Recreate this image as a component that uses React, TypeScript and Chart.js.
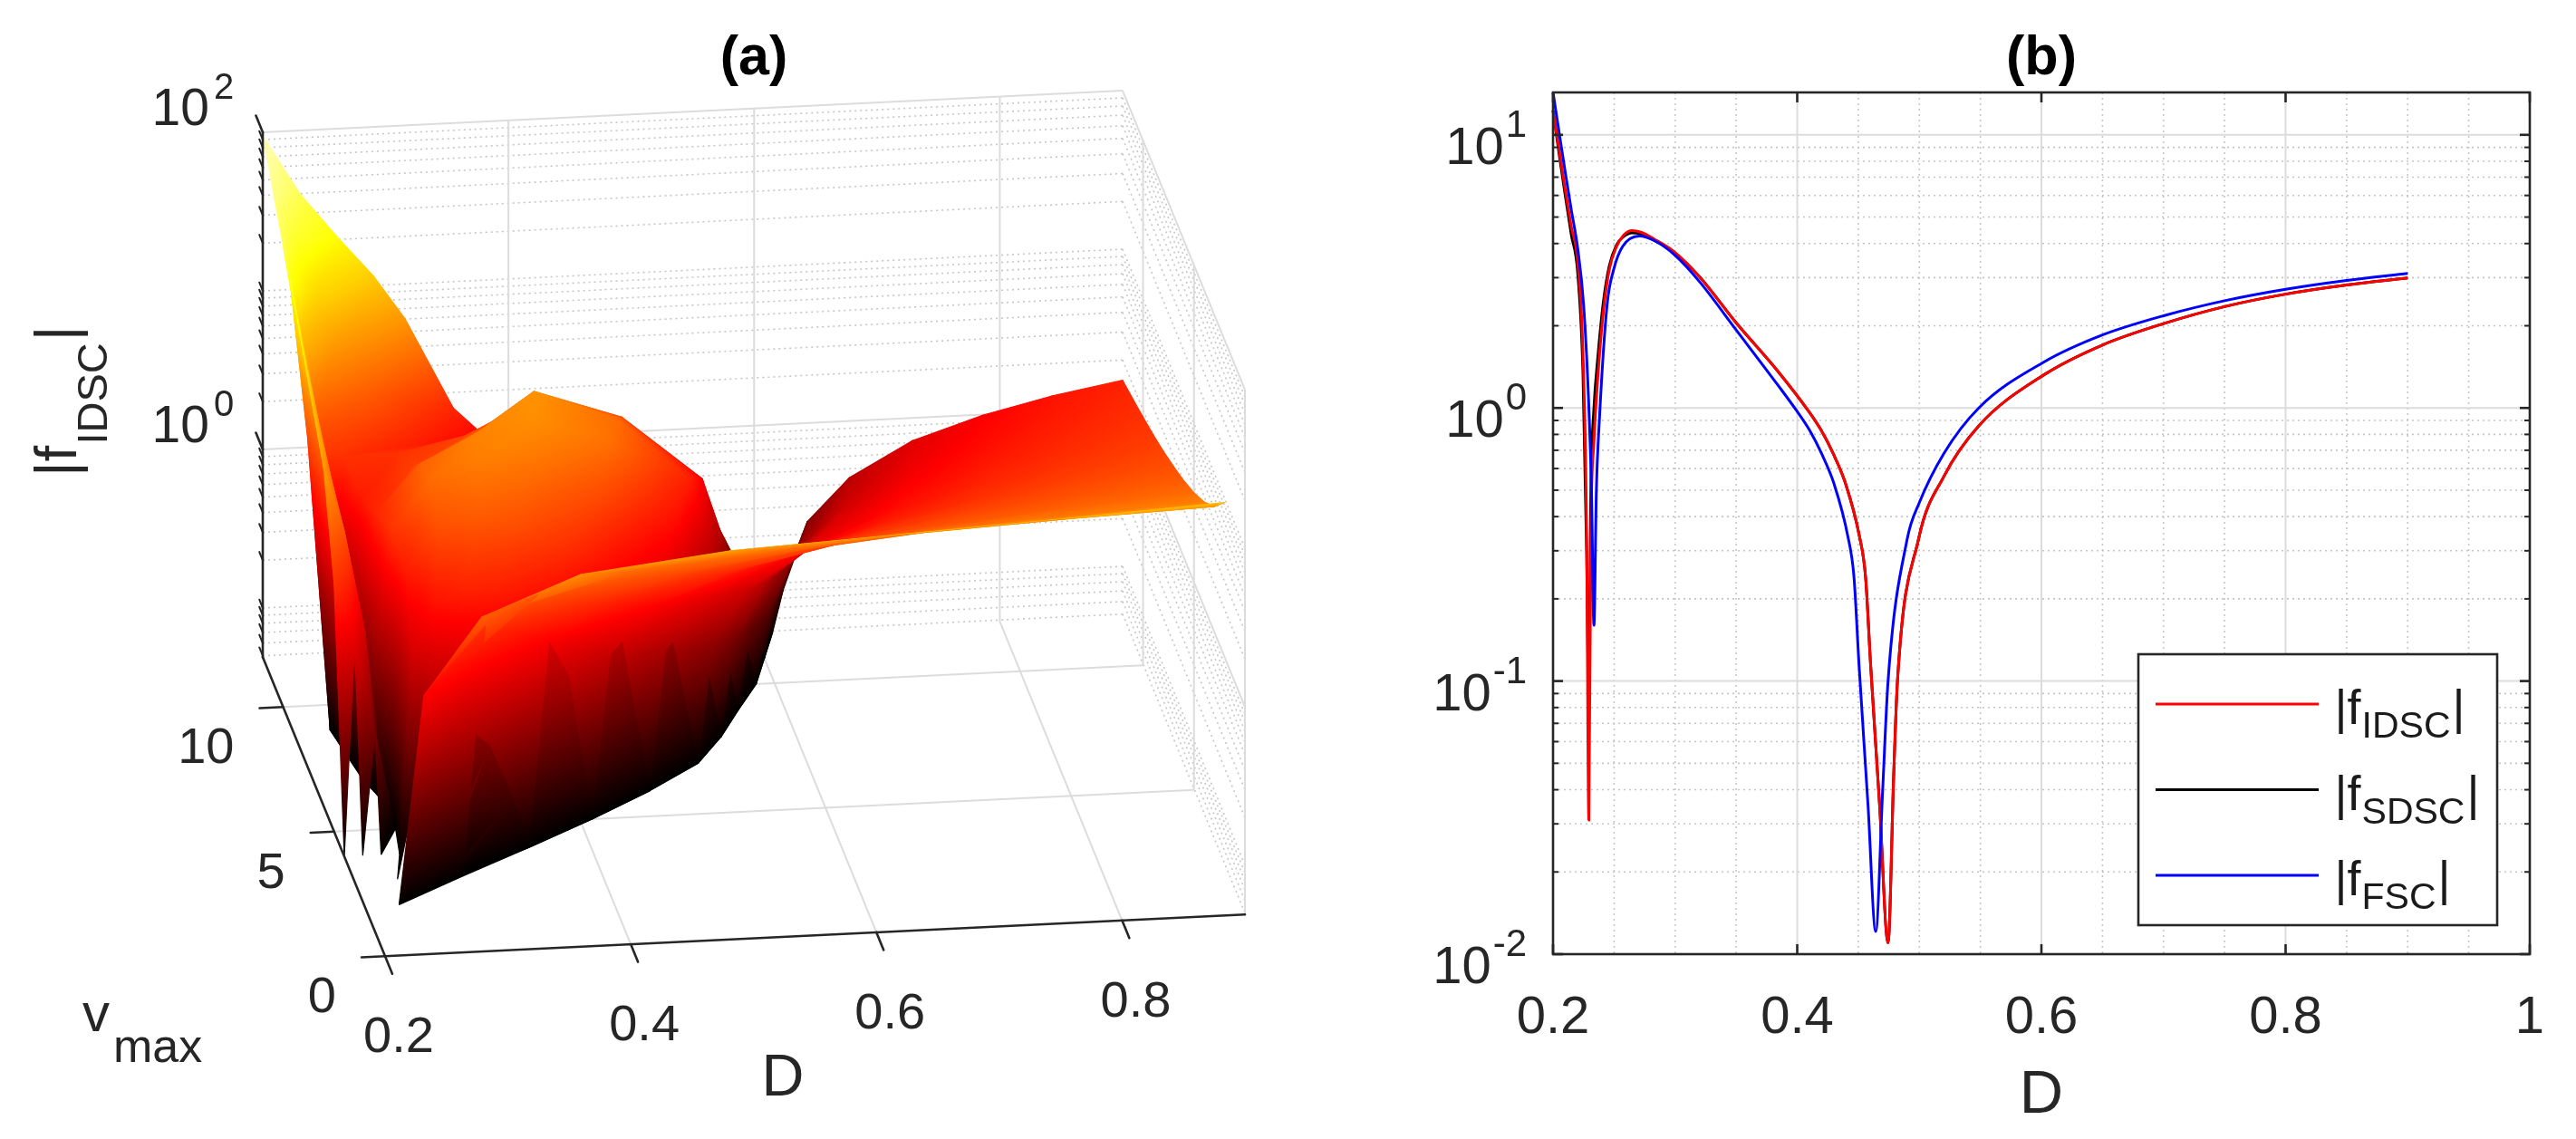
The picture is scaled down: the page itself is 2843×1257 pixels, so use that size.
import React, { useEffect, useRef } from "react";
import { Chart, registerables } from "chart.js";

Chart.register(...registerables);

/* ====================== panel (b): |f| versus D ====================== */
const D_IDSC = [0.2, 0.205, 0.21, 0.215, 0.22, 0.2245, 0.2275, 0.2293, 0.231, 0.2335, 0.2365, 0.241, 0.246, 0.252, 0.258, 0.2647, 0.272, 0.283, 0.299, 0.32, 0.35, 0.3837, 0.4095, 0.4195, 0.4295, 0.4395, 0.4509, 0.456, 0.4601, 0.4675, 0.4744, 0.479, 0.4821, 0.4993, 0.52, 0.5487, 0.6018, 0.65, 0.7007, 0.75, 0.8, 0.85, 0.9];
const F_IDSC = [12.3, 8.8, 6.3, 4.6, 3.5, 1.6, 0.35, 0.031, 0.35, 0.75, 1.26, 2.2, 3.2, 3.9, 4.3, 4.46, 4.4, 4.15, 3.74, 3.02, 2.05, 1.37, 0.97, 0.83, 0.68, 0.53, 0.34, 0.24, 0.115, 0.035, 0.011, 0.045, 0.1, 0.33, 0.56, 0.86, 1.32, 1.7, 2.04, 2.35, 2.61, 2.82, 2.99];
const D_SDSC = D_IDSC;
const F_SDSC = [12.3, 8.5, 6.0, 4.3, 3.2, 1.35, 0.3, 0.088, 0.5, 1.0, 1.5, 2.4, 3.3, 3.95, 4.25, 4.38, 4.33, 4.1, 3.72, 3.02, 2.05, 1.37, 0.97, 0.83, 0.68, 0.53, 0.34, 0.24, 0.115, 0.035, 0.011, 0.045, 0.1, 0.33, 0.56, 0.86, 1.32, 1.7, 2.04, 2.35, 2.61, 2.82, 2.99];
const D_FSC = [0.2, 0.205, 0.21, 0.215, 0.22, 0.225, 0.229, 0.2315, 0.2335, 0.2355, 0.238, 0.2443, 0.25, 0.257, 0.2706, 0.283, 0.3, 0.32, 0.35, 0.3837, 0.4, 0.41, 0.42, 0.43, 0.4414, 0.4465, 0.4506, 0.458, 0.4643, 0.47, 0.4744, 0.49, 0.5, 0.52, 0.5487, 0.6018, 0.65, 0.7007, 0.75, 0.8, 0.85, 0.9];
const F_FSC = [14.3, 10.2, 7.3, 5.3, 3.9, 2.4, 1.1, 0.5, 0.16, 0.5, 0.91, 2.39, 3.25, 3.9, 4.26, 4.1, 3.62, 2.9, 1.93, 1.22, 0.97, 0.83, 0.68, 0.53, 0.34, 0.24, 0.115, 0.035, 0.0121, 0.04, 0.1, 0.33, 0.45, 0.68, 1.0, 1.47, 1.85, 2.18, 2.47, 2.72, 2.93, 3.11];

const SERIES_SUBS = ["IDSC", "SDSC", "FSC"];
const SERIES_COLORS = ["#ff0000", "#000000", "#0000ff"];
const SERIES_ORDER = [1, 2, 0];

const B_X_MIN = 0.2;
const B_X_MAX = 1;
const B_Y_MIN = 0.01;
const B_Y_MAX = 14.3;
const B_X_TICKS = [0.2, 0.4, 0.6, 0.8, 1];
const B_X_TICK_LABELS = ["0.2", "0.4", "0.6", "0.8", "1"];
const B_Y_DECADES = [-2, -1, 0, 1];

/* ====================== panel (a): surface |f_IDSC|(D, vmax) ======================
   one sampled curve per vmax value; every curve is sampled at its own D positions
   (start, first dip, hump, second dip, rising branch) */
const A_VMAX = [2, 3, 4, 5, 6, 7, 8, 9, 10, 11, 12];
const D_V2 = [0.2, 0.2033, 0.2067, 0.21, 0.2114, 0.2136, 0.2163, 0.219, 0.2226, 0.2258, 0.228, 0.2482, 0.2952, 0.3758, 0.4968, 0.6312, 0.7656, 0.9];
const F_V2 = [0.02, 0.02, 0.02, 0.02, 0.02, 0.02, 0.02, 0.02, 0.02, 0.02, 0.02, 1.0, 3.0, 5.2, 6.6, 7.4, 8.3, 9.4];
const D_V3 = [0.2, 0.2117, 0.2233, 0.235, 0.2392, 0.2456, 0.2536, 0.2615, 0.2721, 0.2816, 0.288, 0.3064, 0.3492, 0.4226, 0.5328, 0.6552, 0.7776, 0.9];
const F_V3 = [0.02, 0.02, 0.02, 0.02, 0.03, 0.04, 0.045, 0.045, 0.04, 0.03, 0.01, 1.82, 2.77, 3.65, 4.5, 5.18, 5.73, 6.2];
const D_V4 = [0.2, 0.215, 0.23, 0.245, 0.2534, 0.266, 0.2818, 0.2975, 0.3185, 0.3374, 0.35, 0.3665, 0.405, 0.471, 0.57, 0.68, 0.79, 0.9];
const F_V4 = [0.02, 0.02, 0.02, 0.02, 0.08, 0.2, 0.3, 0.3, 0.22, 0.1, 0.01, 0.95, 1.63, 2.33, 3.05, 3.66, 4.16, 4.6];
const D_V5 = [0.2, 0.2167, 0.2333, 0.25, 0.2628, 0.282, 0.306, 0.33, 0.362, 0.3908, 0.41, 0.4247, 0.459, 0.5178, 0.606, 0.704, 0.802, 0.9];
const F_V5 = [1.8, 0.75, 0.2, 0.01, 0.6, 1.2, 1.5, 1.45, 1.0, 0.4, 0.01, 0.53, 1.03, 1.59, 2.21, 2.76, 3.24, 3.66];
const D_V6 = [0.2, 0.2167, 0.2333, 0.25, 0.2672, 0.293, 0.3253, 0.3575, 0.4005, 0.4392, 0.465, 0.478, 0.5085, 0.5607, 0.639, 0.726, 0.813, 0.9];
const F_V6 = [6.5, 2.6, 0.6, 0.01, 1.3, 2.6, 3.0, 2.6, 1.7, 0.6, 0.01, 0.37, 0.76, 1.23, 1.75, 2.24, 2.66, 3.04];
const D_V7 = [0.2, 0.2133, 0.2267, 0.24, 0.2618, 0.2946, 0.3356, 0.3765, 0.4311, 0.4802, 0.513, 0.5246, 0.5517, 0.5981, 0.6678, 0.7452, 0.8226, 0.9];
const F_V7 = [10.5, 4.2, 1.0, 0.01, 1.8, 3.6, 4.5, 3.9, 2.4, 0.8, 0.01, 0.27, 0.58, 0.97, 1.43, 1.86, 2.25, 2.6];
const D_V8 = [0.2, 0.2117, 0.2233, 0.235, 0.2594, 0.296, 0.3418, 0.3875, 0.4485, 0.5034, 0.54, 0.5508, 0.576, 0.6192, 0.684, 0.756, 0.828, 0.9];
const F_V8 = [17, 6.5, 1.4, 0.01, 1.6, 3.2, 4.8, 5.5, 3.9, 1.2, 0.01, 0.19, 0.45, 0.78, 1.19, 1.58, 1.93, 2.26];
const D_V9 = [0.2, 0.21, 0.22, 0.23, 0.2566, 0.2964, 0.3462, 0.396, 0.4624, 0.5222, 0.562, 0.5721, 0.5958, 0.6364, 0.6972, 0.7648, 0.8324, 0.9];
const F_V9 = [27, 11, 3.5, 0.01, 1.4, 2.1, 3.2, 5.8, 3.7, 1.5, 0.01, 0.16, 0.38, 0.67, 1.03, 1.38, 1.7, 2.0];
const D_V10 = [0.2, 0.2067, 0.2133, 0.22, 0.2492, 0.293, 0.3478, 0.4025, 0.4755, 0.5412, 0.585, 0.5945, 0.6165, 0.6543, 0.711, 0.774, 0.837, 0.9];
const F_V10 = [40, 20, 7, 2.4, 1.8, 1.8, 2.2, 3.5, 2.6, 1.0, 0.01, 0.13, 0.32, 0.58, 0.91, 1.23, 1.52, 1.8];
const D_V11 = [0.2, 0.2167, 0.2333, 0.25, 0.278, 0.32, 0.3725, 0.425, 0.495, 0.558, 0.6, 0.609, 0.63, 0.666, 0.72, 0.78, 0.84, 0.9];
const F_V11 = [62, 30, 13, 6, 3.0, 1.4, 1.15, 1.5, 1.1, 0.4, 0.01, 0.106, 0.27, 0.5, 0.8, 1.09, 1.37, 1.63];
const D_V12 = [0.2, 0.23, 0.26, 0.29, 0.316, 0.355, 0.4038, 0.4525, 0.5175, 0.576, 0.615, 0.6236, 0.6435, 0.6777, 0.729, 0.786, 0.843, 0.9];
const F_V12 = [95, 40, 21, 11.5, 6.0, 1.6, 0.7, 0.5, 0.32, 0.14, 0.01, 0.09, 0.24, 0.44, 0.72, 0.99, 1.25, 1.49];
const A_D_ROWS = [D_V2, D_V3, D_V4, D_V5, D_V6, D_V7, D_V8, D_V9, D_V10, D_V11, D_V12];
const A_F_ROWS = [F_V2, F_V3, F_V4, F_V5, F_V6, F_V7, F_V8, F_V9, F_V10, F_V11, F_V12];

const A_D_TICKS = [0.2, 0.4, 0.6, 0.8];
const A_D_TICK_LABELS = ["0.2", "0.4", "0.6", "0.8"];
const A_V_TICKS = [0, 5, 10];
const A_V_TICK_LABELS = ["0", "5", "10"];
const A_Z_TICK_EXP = [0, 2];

/* ====================== layout / style ====================== */
const FONT = '"Liberation Sans", Arial, Helvetica, sans-serif';
const AXIS_COLOR = "#262626";
const GRID_MAJOR = "#dcdcdc";
const GRID_MINOR = "#c6c6c6";

const A_W = 1540;
const A_H = 1257;
const B_W = 1303;
const B_H = 1257;

// 3-D box of panel (a)
const BOX = { dMin: 0.2, dMax: 0.9, vMin: 0, vMax: 12, lzMin: -1.31, lzMax: 2 };
// colour limits (log10 |f|) for the "hot" colormap
const CLIM = { lo: -1.31, hi: 2.2 };
// view: screen displacement per unit D, per unit vmax, per decade of |f| (origin at D=0.2, vmax=12, |f|=1)
const VIEW = { ox: 290, oy: 496, dDx: 1355.7, dDy: -65.7, dVx: -11.25, dVy: -27.5, dZ: 175 };
const SLOPE_D = -VIEW.dDy / VIEW.dDx;
const SLOPE_V = VIEW.dVy / VIEW.dVx;
const SIN_EL = Math.sqrt(SLOPE_D * SLOPE_V);
const TAN_AZ = SLOPE_D / SIN_EL;

function proj(D: number, v: number, lz: number) {
  return {
    x: VIEW.ox + (D - BOX.dMin) * VIEW.dDx + (v - BOX.vMax) * VIEW.dVx,
    y: VIEW.oy + (D - BOX.dMin) * VIEW.dDy + (v - BOX.vMax) * VIEW.dVy - lz * VIEW.dZ,
  };
}
function depthOf(D: number, v: number) {
  return (D - BOX.dMin) * VIEW.dDx * TAN_AZ + (v * Math.abs(VIEW.dVx)) / TAN_AZ;
}

function clamp01(t: number) {
  return Math.min(1, Math.max(0, t));
}
function hot(lz: number) {
  const t = clamp01((lz - CLIM.lo) / (CLIM.hi - CLIM.lo));
  const r = clamp01(t / 0.375);
  const g = clamp01((t - 0.375) / 0.375);
  const b = clamp01((t - 0.75) / 0.25);
  return `rgb(${Math.round(r * 255)},${Math.round(g * 255)},${Math.round(b * 255)})`;
}
const HOT_BREAKS = [0, 0.375, 0.75, 1].map((t) => CLIM.lo + t * (CLIM.hi - CLIM.lo));

type QV = { lz: number; x: number; y: number };

// linear colouring of a triangle: log10|f| is linear on the triangle
function triPaint(chart: any, tri: QV[]) {
  const l = tri.map((p) => p.lz);
  const lmin = Math.min(...l);
  const lmax = Math.max(...l);
  const sx = chart.scales && chart.scales.x;
  const sy = chart.scales && chart.scales.y;
  if (!sx || !sy || !chart.chartArea || lmax - lmin < 1e-5) return hot((lmin + lmax) / 2);
  const P = tri.map((p) => ({ x: sx.getPixelForValue(p.x), y: sy.getPixelForValue(p.y) }));
  const e1x = P[1].x - P[0].x;
  const e1y = P[1].y - P[0].y;
  const e2x = P[2].x - P[0].x;
  const e2y = P[2].y - P[0].y;
  const d1 = l[1] - l[0];
  const d2 = l[2] - l[0];
  const det = e1x * e2y - e1y * e2x;
  let ax: number, ay: number, bx: number, by: number;
  if (Math.abs(det) < 1e-3) {
    const iLo = l.indexOf(lmin);
    const iHi = l.indexOf(lmax);
    ax = P[iLo].x;
    ay = P[iLo].y;
    bx = P[iHi].x;
    by = P[iHi].y;
    if (Math.hypot(bx - ax, by - ay) < 0.5) return hot((lmin + lmax) / 2);
  } else {
    const gx = (e2y * d1 - e1y * d2) / det;
    const gy = (-e2x * d1 + e1x * d2) / det;
    const g2 = gx * gx + gy * gy;
    if (g2 < 1e-12) return hot((lmin + lmax) / 2);
    ax = P[0].x + (gx * (lmin - l[0])) / g2;
    ay = P[0].y + (gy * (lmin - l[0])) / g2;
    bx = P[0].x + (gx * (lmax - l[0])) / g2;
    by = P[0].y + (gy * (lmax - l[0])) / g2;
  }
  const grad = chart.ctx.createLinearGradient(ax, ay, bx, by);
  grad.addColorStop(0, hot(lmin));
  for (const b of HOT_BREAKS) {
    if (b > lmin && b < lmax) grad.addColorStop((b - lmin) / (lmax - lmin), hot(b));
  }
  grad.addColorStop(1, hot(lmax));
  return grad;
}

function buildSurfaceDatasets() {
  const zMin = Math.pow(10, BOX.lzMin);
  const tris: { pts: QV[]; depth: number }[] = [];
  for (let i = 0; i < A_VMAX.length - 1; i++) {
    const n = Math.min(A_D_ROWS[i].length, A_D_ROWS[i + 1].length);
    for (let j = 0; j < n - 1; j++) {
      const idx = [
        [j, i],
        [j + 1, i],
        [j + 1, i + 1],
        [j, i + 1],
      ];
      const vals = idx.map(([a, b]) => A_F_ROWS[b][a]);
      let depth = 0;
      const pts = idx.map(([a, b], k) => {
        const D = A_D_ROWS[b][a];
        const v = A_VMAX[b];
        depth += depthOf(D, v) / 4;
        const lz = Math.min(BOX.lzMax, Math.max(BOX.lzMin, Math.log10(vals[k])));
        const p = proj(D, v, lz);
        return { lz, x: p.x, y: p.y };
      });
      for (const t of [
        [0, 1, 2],
        [0, 2, 3],
      ]) {
        const below = t.filter((k) => vals[k] < zMin);
        if (below.length === 3) continue;
        // a triangle lying under the floor along one whole curve is clipped away
        if (below.length === 2 && idx[below[0]][1] === idx[below[1]][1]) continue;
        tris.push({ pts: t.map((k) => pts[k]), depth });
      }
    }
  }
  // nearest first: Chart.js paints the last dataset first
  tris.sort((a, b) => a.depth - b.depth);
  return tris.map((q) => ({
    data: [...q.pts.map((p) => ({ x: p.x, y: p.y })), { x: q.pts[0].x, y: q.pts[0].y }],
    fill: "shape",
    pointRadius: 0,
    borderWidth: 1.2,
    borderJoinStyle: "round",
    tension: 0,
    backgroundColor: (c: any) => triPaint(c.chart, q.pts),
    borderColor: (c: any) => triPaint(c.chart, q.pts),
  }));
}

function seg(ctx: CanvasRenderingContext2D, a: { x: number; y: number }, b: { x: number; y: number }) {
  ctx.beginPath();
  ctx.moveTo(a.x, a.y);
  ctx.lineTo(b.x, b.y);
  ctx.stroke();
}

function txt(ctx: CanvasRenderingContext2D, s: string, x: number, y: number, size: number, align: CanvasTextAlign = "left", bold = false, color = AXIS_COLOR) {
  ctx.font = `${bold ? "bold " : ""}${size}px ${FONT}`;
  ctx.textAlign = align;
  ctx.textBaseline = "alphabetic";
  ctx.fillStyle = color;
  ctx.fillText(s, x, y);
}

function minorLogs(lo: number, hi: number, majors: number[]) {
  const out: number[] = [];
  for (let k = -3; k <= 2; k++) {
    for (let m = 1; m <= 9; m++) {
      const lz = k + Math.log10(m);
      if (lz <= lo + 1e-9 || lz >= hi - 1e-9) continue;
      if (m === 1 && majors.includes(k)) continue;
      out.push(lz);
    }
  }
  return out;
}

const panelAPlugin = {
  id: "panelA",
  beforeDatasetsDraw(chart: any) {
    const ctx: CanvasRenderingContext2D = chart.ctx;
    const sx = chart.scales.x;
    const sy = chart.scales.y;
    const P = (D: number, v: number, lz: number) => {
      const p = proj(D, v, lz);
      return { x: sx.getPixelForValue(p.x), y: sy.getPixelForValue(p.y) };
    };
    const { dMin, dMax, vMin, vMax, lzMin, lzMax } = BOX;
    ctx.save();
    ctx.lineCap = "butt";
    ctx.setLineDash([2, 4]);
    ctx.lineWidth = 1.6;
    ctx.strokeStyle = GRID_MINOR;
    for (const lz of minorLogs(lzMin, lzMax, A_Z_TICK_EXP)) {
      seg(ctx, P(dMin, vMax, lz), P(dMax, vMax, lz));
      seg(ctx, P(dMax, vMax, lz), P(dMax, vMin, lz));
    }
    ctx.setLineDash([]);
    ctx.lineWidth = 2;
    ctx.strokeStyle = GRID_MAJOR;
    for (const e of A_Z_TICK_EXP) {
      seg(ctx, P(dMin, vMax, e), P(dMax, vMax, e));
      seg(ctx, P(dMax, vMax, e), P(dMax, vMin, e));
    }
    for (const D of A_D_TICKS) {
      if (D === dMin) continue;
      seg(ctx, P(D, vMax, lzMin), P(D, vMax, lzMax));
      seg(ctx, P(D, vMax, lzMin), P(D, vMin, lzMin));
    }
    for (const v of A_V_TICKS) {
      seg(ctx, P(dMax, v, lzMin), P(dMax, v, lzMax));
      if (v !== vMin) seg(ctx, P(dMin, v, lzMin), P(dMax, v, lzMin));
    }
    ctx.restore();
  },
  afterDatasetsDraw(chart: any) {
    const ctx: CanvasRenderingContext2D = chart.ctx;
    const sx = chart.scales.x;
    const sy = chart.scales.y;
    const P = (D: number, v: number, lz: number) => {
      const p = proj(D, v, lz);
      return { x: sx.getPixelForValue(p.x), y: sy.getPixelForValue(p.y) };
    };
    const unit = (a: { x: number; y: number }, b: { x: number; y: number }) => {
      const l = Math.hypot(b.x - a.x, b.y - a.y);
      return { x: (b.x - a.x) / l, y: (b.y - a.y) / l };
    };
    const { dMin, dMax, vMin, vMax, lzMin, lzMax } = BOX;
    ctx.save();
    ctx.strokeStyle = AXIS_COLOR;
    ctx.lineWidth = 2.6;
    ctx.lineCap = "round";
    seg(ctx, P(dMin, vMax, lzMin), P(dMin, vMax, lzMax));
    seg(ctx, P(dMin, vMax, lzMin), P(dMin, vMin, lzMin));
    seg(ctx, P(dMin, vMin, lzMin), P(dMax, vMin, lzMin));
    const uFront = unit(P(dMin, vMin, lzMin), P(dMin, vMin - 1, lzMin));
    A_D_TICKS.forEach((D, i) => {
      const a = P(D, vMin, lzMin);
      seg(ctx, a, { x: a.x + uFront.x * 21, y: a.y + uFront.y * 21 });
      txt(ctx, A_D_TICK_LABELS[i], a.x + 15, a.y + 106, 56, "center");
    });
    const uLeft = unit(P(dMin, vMin, lzMin), P(dMin - 1, vMin, lzMin));
    A_V_TICKS.forEach((v, i) => {
      const a = P(dMin, v, lzMin);
      seg(ctx, a, { x: a.x + uLeft.x * 26, y: a.y + uLeft.y * 26 });
      txt(ctx, A_V_TICK_LABELS[i], a.x - 54, a.y + 62, 56, "right");
    });
    const uBack = unit(P(dMin, vMax, 0), P(dMin, vMax + 1, 0));
    ctx.lineWidth = 2;
    for (const lz of minorLogs(lzMin, lzMax, A_Z_TICK_EXP)) {
      const a = P(dMin, vMax, lz);
      seg(ctx, a, { x: a.x + uBack.x * 10, y: a.y + uBack.y * 10 });
    }
    ctx.lineWidth = 2.6;
    for (const e of A_Z_TICK_EXP) {
      const a = P(dMin, vMax, e);
      seg(ctx, a, { x: a.x + uBack.x * 20, y: a.y + uBack.y * 20 });
      txt(ctx, "10", a.x - 59, a.y - 8, 57, "right");
      txt(ctx, String(e), a.x - 54, a.y - 37, 40, "left");
    }
    txt(ctx, "D", 864, 1209, 65, "center");
    txt(ctx, "v", 91, 1138, 60, "left");
    txt(ctx, "max", 125, 1172, 52, "left");
    ctx.save();
    ctx.translate(84, 526);
    ctx.rotate(-Math.PI / 2);
    ctx.font = `64px ${FONT}`;
    const w1 = ctx.measureText("|f").width;
    txt(ctx, "|f", 0, 0, 64, "left");
    ctx.font = `47px ${FONT}`;
    const w2 = ctx.measureText("IDSC").width;
    txt(ctx, "IDSC", w1 + 1, 34, 47, "left");
    txt(ctx, "|", w1 + w2 + 3, 0, 64, "left");
    ctx.restore();
    txt(ctx, "(a)", 832, 82, 61, "center", true, "#000000");
    ctx.restore();
  },
};

function makeChartA(canvas: HTMLCanvasElement) {
  return new Chart(canvas, {
    type: "line",
    data: { datasets: buildSurfaceDatasets() as any },
    options: {
      responsive: false,
      animation: false,
      events: [],
      layout: { padding: 0 },
      scales: {
        x: { type: "linear", min: 0, max: A_W, display: false },
        y: { type: "linear", min: 0, max: A_H, reverse: true, display: false },
      },
      plugins: {
        legend: { display: false },
        tooltip: { enabled: false },
        filler: { propagate: false },
      },
    } as any,
    plugins: [panelAPlugin],
  });
}

/* ---------------- panel (b) decorations ---------------- */
const LEGEND = { rightInset: 36, bottomInset: 32, w: 396, h: 299, lineX0: 19, lineX1: 199, row0: 55, rowStep: 94.5, textX: 216.5 };

const panelBPlugin = {
  id: "panelB",
  beforeDatasetsDraw(chart: any) {
    const ctx: CanvasRenderingContext2D = chart.ctx;
    const a = chart.chartArea;
    const x = chart.scales.x;
    const y = chart.scales.y;
    ctx.save();
    ctx.lineCap = "butt";
    ctx.setLineDash([2, 4]);
    ctx.lineWidth = 1.6;
    ctx.strokeStyle = GRID_MINOR;
    for (let k = 1; k < 16; k++) {
      if (k % 4 === 0) continue;
      const px = x.getPixelForValue(B_X_MIN + k * 0.05);
      seg(ctx, { x: px, y: a.top }, { x: px, y: a.bottom });
    }
    const lzLo = Math.log10(B_Y_MIN);
    const lzHi = Math.log10(B_Y_MAX);
    for (const lz of minorLogs(lzLo, lzHi, B_Y_DECADES)) {
      const py = y.getPixelForValue(Math.pow(10, lz));
      seg(ctx, { x: a.left, y: py }, { x: a.right, y: py });
    }
    ctx.setLineDash([]);
    ctx.lineWidth = 2;
    ctx.strokeStyle = GRID_MAJOR;
    for (const d of B_X_TICKS) {
      const px = x.getPixelForValue(d);
      seg(ctx, { x: px, y: a.top }, { x: px, y: a.bottom });
    }
    for (const e of B_Y_DECADES) {
      const py = y.getPixelForValue(Math.pow(10, e));
      seg(ctx, { x: a.left, y: py }, { x: a.right, y: py });
    }
    ctx.restore();
  },
  afterDatasetsDraw(chart: any) {
    const ctx: CanvasRenderingContext2D = chart.ctx;
    const a = chart.chartArea;
    const x = chart.scales.x;
    const y = chart.scales.y;
    ctx.save();
    ctx.strokeStyle = AXIS_COLOR;
    ctx.lineWidth = 2.6;
    ctx.strokeRect(a.left, a.top, a.right - a.left, a.bottom - a.top);
    B_X_TICKS.forEach((d, i) => {
      const px = x.getPixelForValue(d);
      seg(ctx, { x: px, y: a.bottom }, { x: px, y: a.bottom - 11 });
      seg(ctx, { x: px, y: a.top }, { x: px, y: a.top + 11 });
      txt(ctx, B_X_TICK_LABELS[i], px, a.bottom + 87, 58, "center");
    });
    const lzLo = Math.log10(B_Y_MIN);
    const lzHi = Math.log10(B_Y_MAX);
    ctx.lineWidth = 2;
    for (const lz of minorLogs(lzLo, lzHi, B_Y_DECADES)) {
      const py = y.getPixelForValue(Math.pow(10, lz));
      seg(ctx, { x: a.left, y: py }, { x: a.left + 6, y: py });
      seg(ctx, { x: a.right, y: py }, { x: a.right - 6, y: py });
    }
    ctx.lineWidth = 2.6;
    for (const e of B_Y_DECADES) {
      const py = y.getPixelForValue(Math.pow(10, e));
      seg(ctx, { x: a.left, y: py }, { x: a.left + 11, y: py });
      seg(ctx, { x: a.right, y: py }, { x: a.right - 11, y: py });
      const es = String(e);
      ctx.font = `42px ${FONT}`;
      const we = ctx.measureText(es).width;
      txt(ctx, es, a.left - 29, py + 2, 42, "right");
      txt(ctx, "10", a.left - 29 - we - 2, py + 32, 58, "right");
    }
    const cx = (a.left + a.right) / 2;
    txt(ctx, "D", cx, a.bottom + 175, 67, "center");
    txt(ctx, "(b)", cx, 82, 61, "center", true, "#000000");
    const L = LEGEND;
    const lx = a.right - L.rightInset - L.w;
    const ly = a.bottom - L.bottomInset - L.h;
    ctx.fillStyle = "#ffffff";
    ctx.fillRect(lx, ly, L.w, L.h);
    ctx.strokeStyle = AXIS_COLOR;
    ctx.lineWidth = 2.6;
    ctx.strokeRect(lx, ly, L.w, L.h);
    SERIES_SUBS.forEach((sub, i) => {
      const ry = ly + L.row0 + i * L.rowStep;
      ctx.strokeStyle = SERIES_COLORS[i];
      ctx.lineWidth = 3;
      seg(ctx, { x: lx + L.lineX0, y: ry }, { x: lx + L.lineX1, y: ry });
      const tx = lx + L.textX;
      ctx.font = `54px ${FONT}`;
      const w1 = ctx.measureText("|f").width;
      txt(ctx, "|f", tx, ry + 22, 54, "left", false, "#1a1a1a");
      ctx.font = `41px ${FONT}`;
      const w2 = ctx.measureText(sub).width;
      txt(ctx, sub, tx + w1 + 1, ry + 37, 41, "left", false, "#1a1a1a");
      txt(ctx, "|", tx + w1 + w2 + 3, ry + 22, 54, "left", false, "#1a1a1a");
    });
    ctx.restore();
  },
};

function makeChartB(canvas: HTMLCanvasElement) {
  const xs = [D_IDSC, D_SDSC, D_FSC];
  const ys = [F_IDSC, F_SDSC, F_FSC];
  const datasets = SERIES_SUBS.map((sub, i) => ({
    label: `|f_${sub}|`,
    data: xs[i].map((d, k) => ({ x: d, y: ys[i][k] })),
    borderColor: SERIES_COLORS[i],
    backgroundColor: SERIES_COLORS[i],
    borderWidth: 3,
    pointRadius: 0,
    fill: false,
    cubicInterpolationMode: "monotone",
    order: SERIES_ORDER[i],
    clip: 4,
  }));
  return new Chart(canvas, {
    type: "line",
    data: { datasets: datasets as any },
    options: {
      responsive: false,
      animation: false,
      events: [],
      layout: { padding: { left: 174, right: 51, top: 102, bottom: 204 } },
      scales: {
        x: { type: "linear", min: B_X_MIN, max: B_X_MAX, display: false },
        y: { type: "logarithmic", min: B_Y_MIN, max: B_Y_MAX, display: false },
      },
      plugins: {
        legend: { display: false },
        tooltip: { enabled: false },
      },
    } as any,
    plugins: [panelBPlugin],
  });
}

export default function App() {
  const refA = useRef<HTMLCanvasElement>(null);
  const refB = useRef<HTMLCanvasElement>(null);
  useEffect(() => {
    Chart.defaults.font.family = FONT;
    const ca = makeChartA(refA.current as HTMLCanvasElement);
    const cb = makeChartB(refB.current as HTMLCanvasElement);
    return () => {
      ca.destroy();
      cb.destroy();
    };
  }, []);
  return (
    <div style={{ position: "absolute", left: 0, top: 0, width: A_W + B_W, height: A_H, background: "#ffffff" }}>
      <canvas ref={refA} width={A_W} height={A_H} style={{ position: "absolute", left: 0, top: 0, width: A_W, height: A_H }} />
      <canvas ref={refB} width={B_W} height={B_H} style={{ position: "absolute", left: A_W, top: 0, width: B_W, height: B_H }} />
    </div>
  );
}
